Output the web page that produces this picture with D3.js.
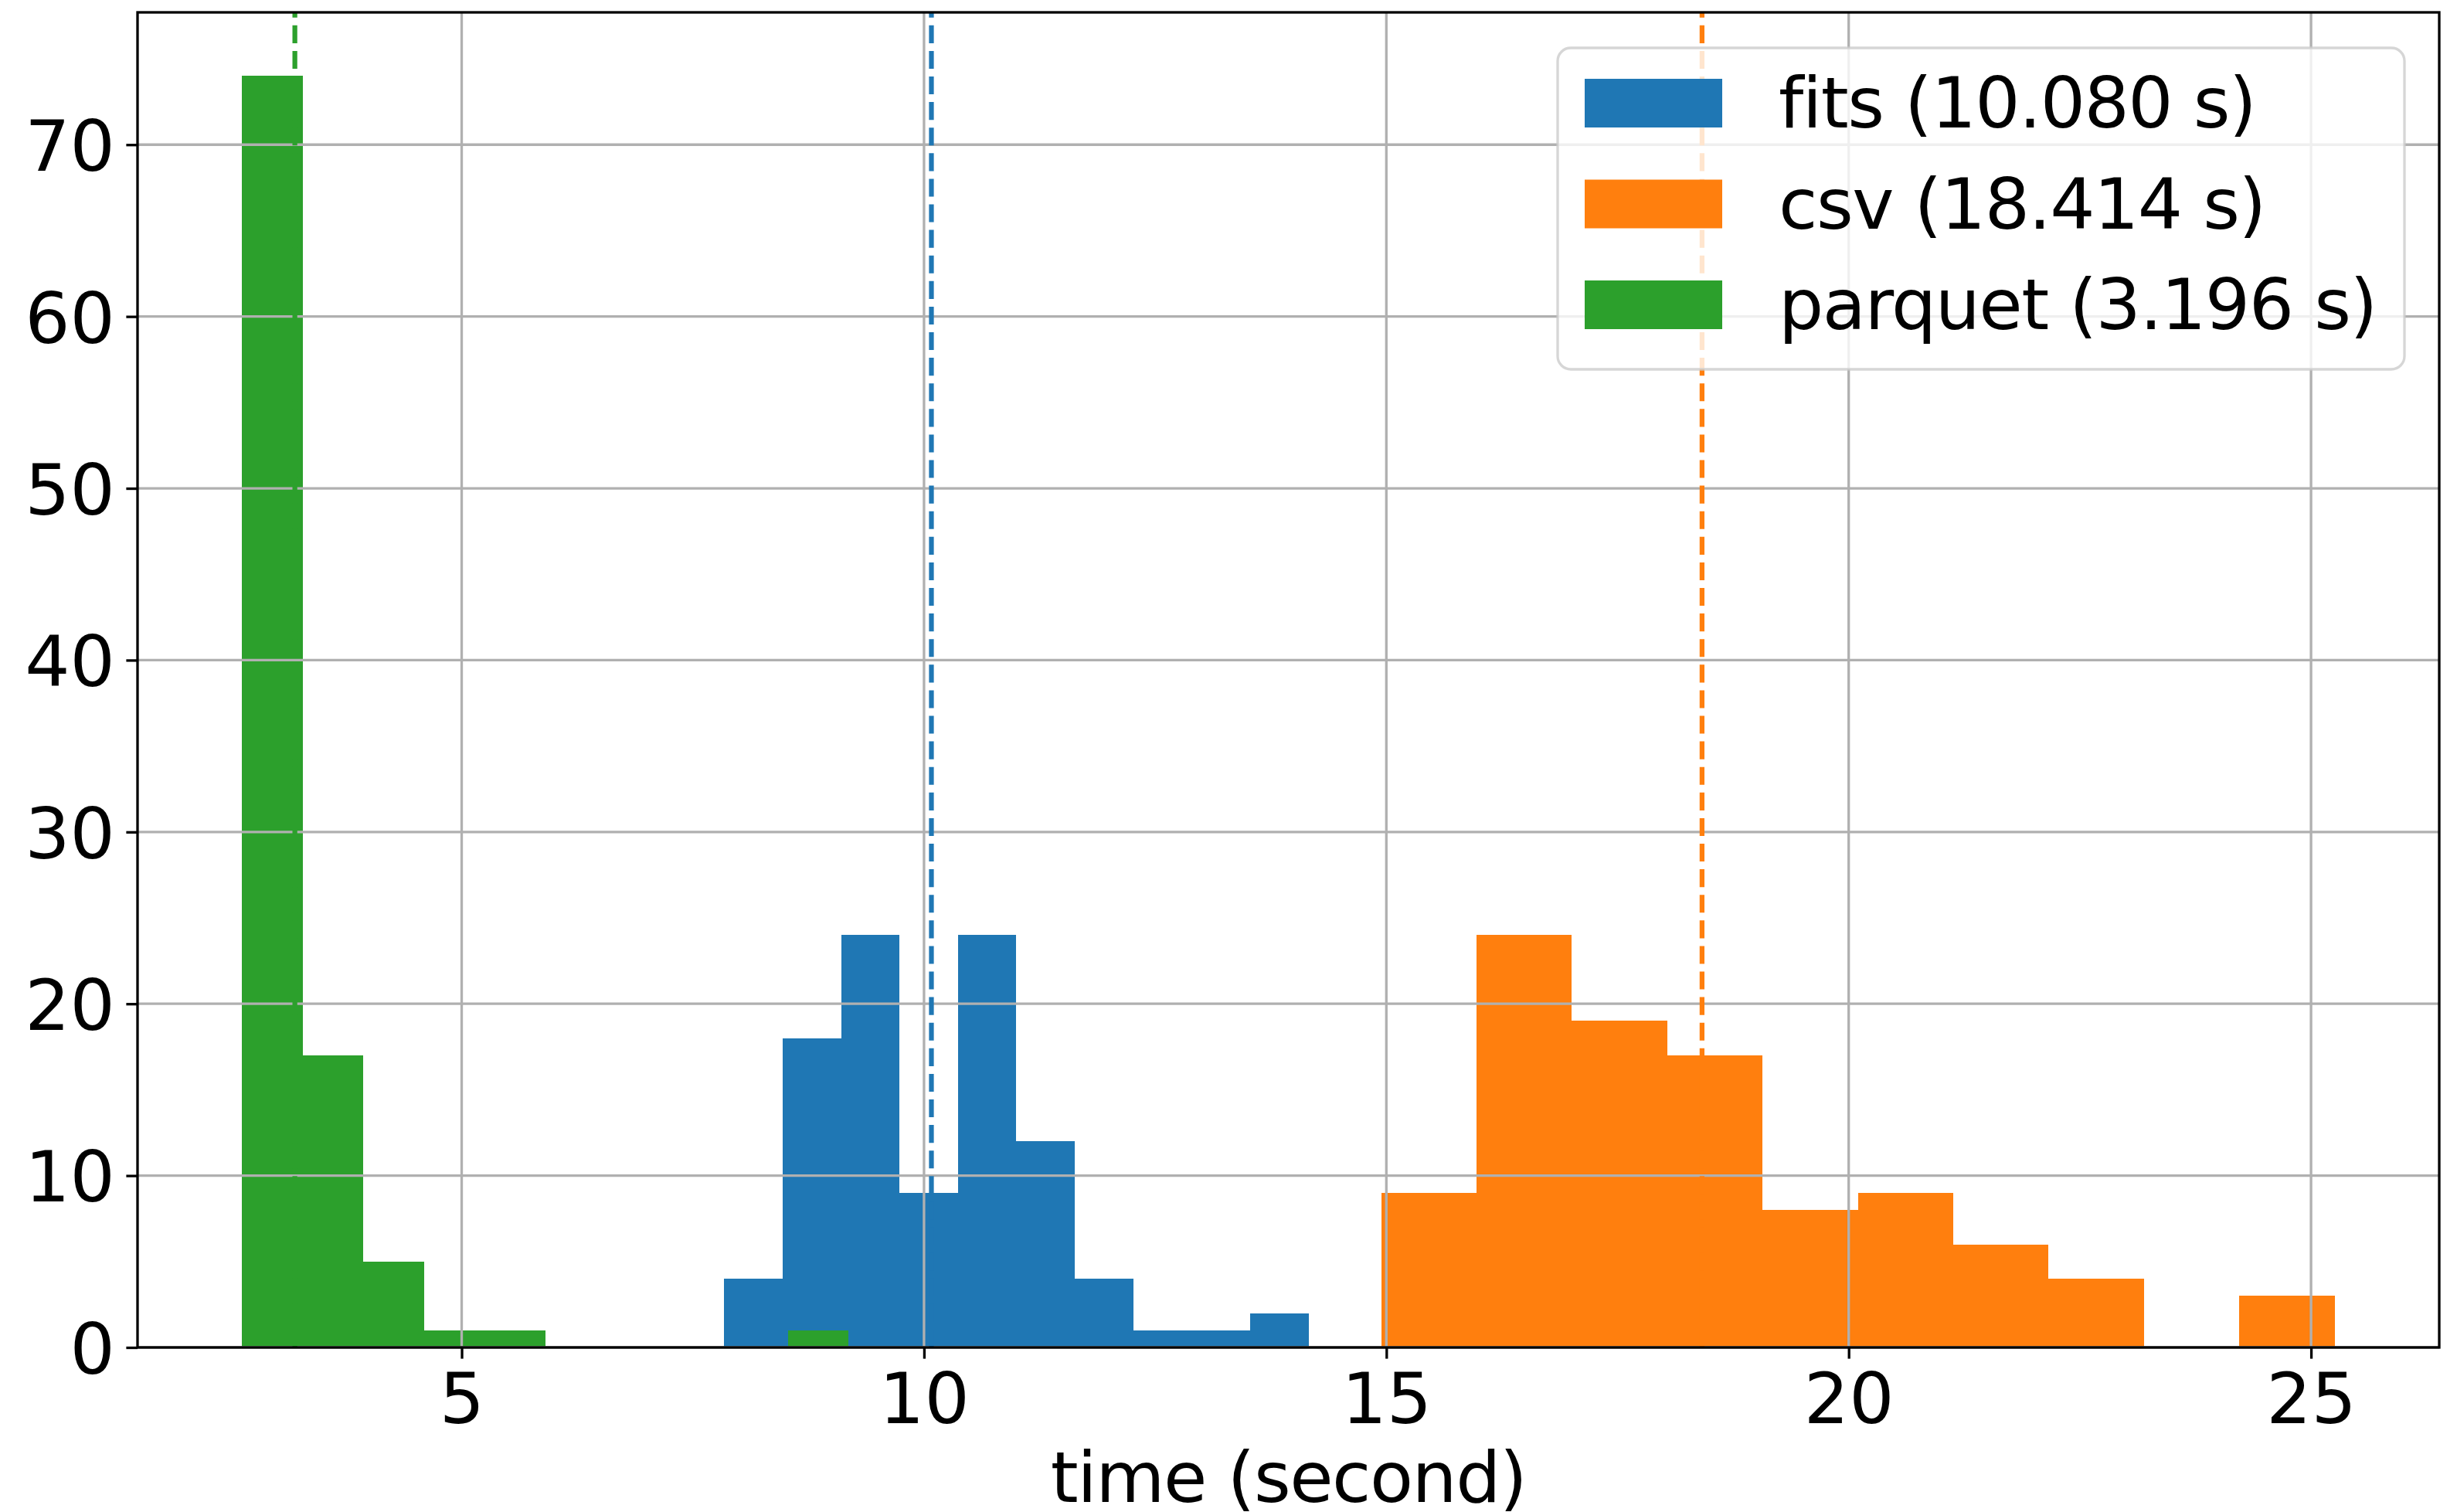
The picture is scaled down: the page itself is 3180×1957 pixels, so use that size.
<!DOCTYPE html>
<html>
<head>
<meta charset="utf-8">
<script src="https://cdn.jsdelivr.net/npm/d3@7"></script>
<style>
    body { margin: 0; background: #fff; }
    svg text { font-family: "DejaVu Sans", sans-serif; fill: #000; }
</style>
</head>
<body>
<div id="chart"></div>
<script>
(function(){
    "use strict";
    //====================================
    //data
    var seriesNames = ["fits", "csv", "parquet"];
    var seriesMeans = [10.080, 18.414, 3.196];
    var seriesColors = ["#1f77b4", "#ff7f0e", "#2ca02c"];

    //histogram range (first edge, last edge) and counts, 10 bins each
    var fitsRange = [7.839, 14.158];
    var fitsCounts = [4, 18, 24, 9, 24, 12, 4, 1, 1, 2];
    var csvRange = [14.945, 25.255];
    var csvCounts = [9, 24, 19, 17, 8, 9, 6, 4, 0, 3];
    var parquetRange = [2.626, 9.186];
    var parquetCounts = [74, 17, 5, 1, 1, 0, 0, 0, 0, 1];

    var xTicks = [5, 10, 15, 20, 25];
    var yTicks = [0, 10, 20, 30, 40, 50, 60, 70];
    var xLabel = "time (second)";

    //====================================
    //layout
    var width = 3180, height = 1957;
    var plot = {left: 178, right: 3157, top: 16, bottom: 1744};
    var fontSize = 91.7;
    var lw = 3.3;          //0.8pt at 300 dpi
    var tickLen = 14.6;
    var tightText = "-1.5px"; //matplotlib's text sets a bit narrower

    var svg = d3.select("#chart").append("svg")
        .attr("width", width)
        .attr("height", height)
        .style("display", "block");

    //matplotlib style 5% margins round the data
    var dataMin = parquetRange[0], dataMax = csvRange[1];
    var pad = (dataMax - dataMin) * 0.05;
    var x = d3.scaleLinear()
        .domain([dataMin - pad, dataMax + pad])
        .range([plot.left, plot.right]);
    var y = d3.scaleLinear()
        .domain([0, d3.max(parquetCounts) * 1.05])
        .range([plot.bottom, plot.top]);

    function makeBins(range, counts){
        var step = (range[1] - range[0]) / counts.length;
        return counts.map(function(c, i){
            return {x0: range[0] + i * step, x1: range[0] + (i + 1) * step, count: c};
        });
    }

    var series = [
        {name: seriesNames[0], mean: seriesMeans[0], color: seriesColors[0], bins: makeBins(fitsRange, fitsCounts)},
        {name: seriesNames[1], mean: seriesMeans[1], color: seriesColors[1], bins: makeBins(csvRange, csvCounts)},
        {name: seriesNames[2], mean: seriesMeans[2], color: seriesColors[2], bins: makeBins(parquetRange, parquetCounts)}
    ];

    //draw the bars
    var barLayer = svg.append("g").attr("class", "bars");
    series.forEach(function(s){
        barLayer.append("g")
            .selectAll("rect")
            .data(s.bins.filter(function(d){ return d.count > 0; }))
            .enter().append("rect")
            .attr("x", function(d){ return x(d.x0); })
            .attr("width", function(d){ return x(d.x1) - x(d.x0); })
            .attr("y", function(d){ return y(d.count); })
            .attr("height", function(d){ return y(0) - y(d.count); })
            .attr("shape-rendering", "crispEdges")
            .style("fill", s.color);
    });

    //grid on top of the bars (matplotlib default)
    var grid = svg.append("g").attr("class", "grid")
        .style("stroke", "#b0b0b0")
        .style("stroke-width", lw);
    grid.selectAll("line.gx").data(xTicks).enter().append("line")
        .attr("x1", function(d){ return x(d); })
        .attr("x2", function(d){ return x(d); })
        .attr("y1", plot.top)
        .attr("y2", plot.bottom);
    grid.selectAll("line.gy").data(yTicks).enter().append("line")
        .attr("x1", plot.left)
        .attr("x2", plot.right)
        .attr("y1", function(d){ return y(d); })
        .attr("y2", function(d){ return y(d); });

    //mean lines
    svg.append("g").attr("class", "means")
        .selectAll("line")
        .data(series)
        .enter().append("line")
        .attr("x1", function(d){ return x(d.mean); })
        .attr("x2", function(d){ return x(d.mean); })
        .attr("y1", plot.bottom)
        .attr("y2", plot.top)
        .style("stroke", function(d){ return d.color; })
        .style("stroke-width", 6.25)
        .style("stroke-dasharray", "23.1,10");

    //axes
    var xAxis = svg.append("g")
        .attr("transform", "translate(0," + plot.bottom + ")")
        .call(d3.axisBottom(x).tickValues(xTicks).tickSize(tickLen).tickSizeOuter(0));
    xAxis.select(".domain").remove();
    xAxis.selectAll(".tick line").style("stroke", "#000").style("stroke-width", lw);
    xAxis.selectAll(".tick text")
        .attr("y", 98)
        .attr("dy", 0)
        .style("font-size", fontSize + "px")
        .style("font-family", "'DejaVu Sans', sans-serif");

    var yAxis = svg.append("g")
        .attr("transform", "translate(" + plot.left + ",0)")
        .call(d3.axisLeft(y).tickValues(yTicks).tickSize(tickLen).tickSizeOuter(0));
    yAxis.select(".domain").remove();
    yAxis.selectAll(".tick line").style("stroke", "#000").style("stroke-width", lw);
    yAxis.selectAll(".tick text")
        .attr("x", -(tickLen * 2))
        .attr("dy", "0.364em")
        .style("font-size", fontSize + "px")
        .style("font-family", "'DejaVu Sans', sans-serif");

    //spines
    svg.append("rect")
        .attr("x", plot.left)
        .attr("y", plot.top)
        .attr("width", plot.right - plot.left)
        .attr("height", plot.bottom - plot.top)
        .style("fill", "none")
        .style("stroke", "#000")
        .style("stroke-width", lw);

    svg.append("text")
        .attr("x", (plot.left + plot.right) / 2)
        .attr("y", 1944)
        .attr("text-anchor", "middle")
        .style("font-size", fontSize + "px")
        .style("letter-spacing", tightText)
        .text(xLabel);

    //====================================
    //legend
    var legend = svg.append("g").attr("class", "legend");
    legend.append("rect")
        .attr("x", 2016)
        .attr("y", 62)
        .attr("width", 1096)
        .attr("height", 416)
        .attr("rx", 17)
        .style("fill", "#fff")
        .style("fill-opacity", 0.8)
        .style("stroke", "#cccccc")
        .style("stroke-opacity", 0.8)
        .style("stroke-width", lw);

    var rowBase = 165, rowStep = 130.5;
    var entry = legend.selectAll("g.entry")
        .data(series)
        .enter().append("g")
        .attr("class", "entry")
        .attr("transform", function(d, i){ return "translate(0," + (rowBase + i * rowStep) + ")"; });
    entry.append("rect")
        .attr("x", 2051)
        .attr("y", -63)
        .attr("width", 178)
        .attr("height", 63)
        .style("fill", function(d){ return d.color; });
    entry.append("text")
        .attr("x", 2302)
        .attr("y", 0)
        .style("font-size", fontSize + "px")
        .style("letter-spacing", tightText)
        .text(function(d){ return d.name + " (" + d.mean.toFixed(3) + " s)"; });
})();
</script>
</body>
</html>
